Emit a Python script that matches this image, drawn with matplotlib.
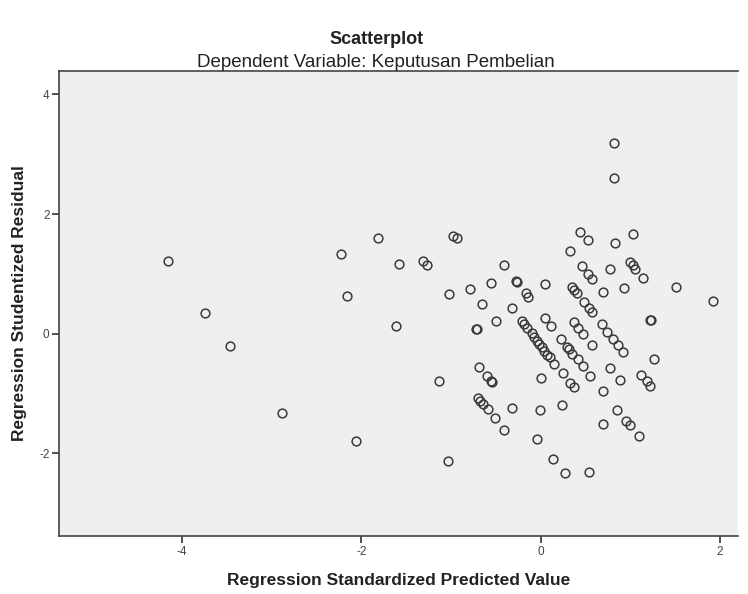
import matplotlib
matplotlib.use("Agg")
import matplotlib.pyplot as plt

plt.rcParams['font.family'] = ['Liberation Sans', 'DejaVu Sans']
plt.rcParams['axes.unicode_minus'] = False

# predicted values (x) and studentized residuals (y)
pred = [-4.156, -3.743, -3.471, -2.891, -1.819, -2.232, -1.578, -1.313, -1.266, -0.975,
        -0.931, -0.413, -2.162, -1.027, -0.786, -0.551, -0.276, -0.270, -0.167, -0.142,
        -0.652, -0.324, -1.618, -0.719, -0.712, -0.502, -1.135, -0.689, -0.596, -0.555,
        -0.543, -0.703, -0.677, -0.647, -0.592, -0.507, -0.406, -0.321, -2.058, -1.038,
        0.815, 0.818, 0.435, 0.528, 1.030, 0.833, 0.327, 0.458, 0.531, 0.576,
        0.773, 1.000, 1.026, 1.056, 1.142, 1.510, 1.926, 0.051, 0.349, 0.371,
        0.408, 0.692, 0.933, 0.487, 0.542, 0.569, -0.209, -0.183, -0.150, -0.100,
        -0.071, -0.045, -0.016, 0.011, 0.037, 0.074, 0.104, 0.152, 0.051, 0.114,
        0.223, 0.290, 0.312, 0.349, 0.412, 0.472, 0.371, 0.419, 0.475, 0.572,
        0.681, 0.743, 0.802, 0.858, 0.914, 1.216, 1.226, 1.268, 0.772, 0.884,
        1.123, 1.183, 1.223, 0.554, 0.692, 0.249, 0.327, 0.371, 0.000, -0.008,
        0.234, -0.041, 0.855, 0.952, 0.993, 1.093, 0.692, 0.134, 0.271, 0.539]
resid = [1.217, 0.353, -0.199, -1.319, 1.607, 1.329, 1.167, 1.212, 1.156, 1.635,
         1.602, 1.156, 0.637, 0.666, 0.754, 0.855, 0.878, 0.870, 0.677, 0.610,
         0.503, 0.431, 0.135, 0.075, 0.080, 0.209, -0.784, -0.549, -0.706, -0.794,
         -0.806, -1.074, -1.119, -1.174, -1.263, -1.413, -1.614, -1.235, -1.798, -2.127,
         3.186, 2.610, 1.697, 1.563, 1.669, 1.513, 1.385, 1.128, 1.000, 0.911,
         1.084, 1.206, 1.150, 1.084, 0.933, 0.777, 0.543, 0.833, 0.788, 0.732,
         0.687, 0.694, 0.766, 0.532, 0.426, 0.365, 0.219, 0.164, 0.097, 0.008,
         -0.059, -0.115, -0.171, -0.226, -0.282, -0.360, -0.393, -0.505, 0.264, 0.125,
         -0.082, -0.216, -0.259, -0.338, -0.426, -0.533, 0.202, 0.102, -0.003, -0.192,
         0.164, 0.035, -0.082, -0.187, -0.299, 0.231, 0.226, -0.426, -0.577, -0.778,
         -0.689, -0.794, -0.878, -0.700, -0.956, -0.661, -0.818, -0.885, -0.745, -1.274,
         -1.196, -1.754, -1.269, -1.453, -1.530, -1.714, -1.508, -2.094, -2.333, -2.311]

xticks = [-4, -2, 0, 2]
yticks = [-2, 0, 2, 4]

fig = plt.figure(figsize=(7.48, 5.94), dpi=100)
ax = fig.add_axes([0.0793, 0.0976, 0.9073, 0.7829])
ax.set_facecolor('#eef0f0')

ax.plot(pred, resid, linestyle='none', marker='o', markersize=6.3,
        markerfacecolor='none', markeredgecolor='#3a3a3a', markeredgewidth=1.1)

ax.set_xlim(-5.37, 2.2)
ax.set_ylim(-3.38, 4.39)
ax.set_xticks(xticks)
ax.set_yticks(yticks)
ax.tick_params(direction='out', length=5, width=1.2, color='#333333',
               labelsize=8.5, labelcolor='#444444', pad=2)

for side in ['top', 'left', 'bottom']:
    ax.spines[side].set_color('#444444')
    ax.spines[side].set_linewidth(1.2)
ax.spines['right'].set_visible(False)

ax.set_xlabel('Regression Standardized Predicted Value', fontsize=12.5,
              fontweight='bold', color='#222222', labelpad=11)
ax.set_ylabel('Regression Studentized Residual', fontsize=12.5,
              fontweight='bold', color='#222222', labelpad=9)

fig.text(0.503, 0.933, 'Scatterplot', ha='center', va='center',
         fontsize=13, fontweight='bold', color='#222222')
fig.text(0.503, 0.894, 'Dependent Variable: Keputusan Pembelian', ha='center',
         va='center', fontsize=13.5, color='#222222')

fig.savefig('out.png', dpi=100)
